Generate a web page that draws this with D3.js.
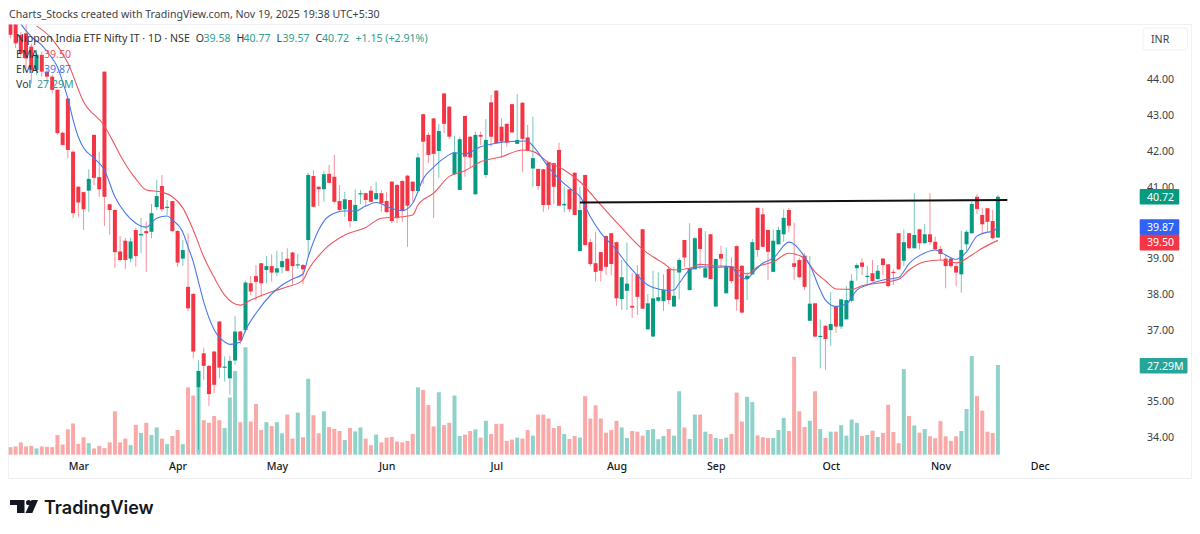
<!DOCTYPE html>
<html><head><meta charset="utf-8">
<script src="https://cdnjs.cloudflare.com/ajax/libs/d3/7.8.5/d3.min.js"></script>
<style>html,body{margin:0;background:#fff}svg{display:block}text{font-family:"Noto Sans",sans-serif}</style>
</head><body><svg id="c" width="1200" height="534"></svg>
<script>
const open=[45.70,45.70,45.25,45.29,44.92,44.27,44.69,44.22,44.08,43.71,
42.51,43.47,41.98,41.00,40.85,40.89,42.45,41.27,44.22,40.51,
40.35,39.19,39.49,38.99,39.79,39.64,39.76,39.74,40.43,41.02,
40.41,40.60,39.76,38.99,38.20,38.00,35.39,36.34,35.99,36.39,
37.23,35.94,35.64,36.14,36.95,36.99,38.30,38.50,38.86,38.67,
38.78,38.60,38.75,38.99,39.16,38.80,38.81,39.51,41.30,41.00,
40.93,41.36,41.28,40.60,40.37,40.63,40.04,40.79,40.82,40.89,
40.65,40.82,40.60,41.14,41.05,41.16,41.31,41.14,40.88,43.03,
42.45,42.91,42.00,43.61,43.24,41.35,40.91,42.98,42.40,40.79,
42.45,41.33,43.36,43.69,42.68,42.76,43.31,42.20,43.35,42.38,
41.51,41.50,41.49,41.69,41.66,42.03,40.48,40.93,41.39,39.20,
41.33,39.45,38.86,39.17,39.62,39.70,39.45,37.86,38.09,37.67,
38.55,39.81,37.01,36.81,37.81,37.80,38.70,37.65,38.60,39.51,
38.11,38.69,39.84,38.46,39.67,37.65,39.12,38.02,38.76,39.34,
38.79,38.42,38.55,40.41,40.23,39.79,38.62,39.39,39.67,40.35,
38.86,38.95,39.07,37.25,37.74,36.80,37.11,36.99,37.65,37.09,
37.29,37.81,38.72,38.88,38.48,38.58,38.42,38.99,38.83,38.62,
39.70,38.93,39.70,39.28,39.81,39.42,39.67,39.46,39.26,38.99,
38.99,38.78,38.55,39.39,39.70,40.72,40.21,40.40,40.04,39.58];
const close=[45.25,45.01,44.73,44.59,44.27,44.69,44.22,44.08,43.71,42.50,
42.17,42.03,40.26,40.56,40.37,41.22,41.25,40.93,40.72,40.35,
39.17,38.95,38.95,39.47,39.06,39.68,39.70,40.26,40.74,40.37,
40.44,39.76,38.88,39.23,37.60,36.39,35.85,35.99,35.20,35.46,
35.94,35.97,36.13,36.95,36.70,38.32,38.07,38.34,38.30,38.78,
38.60,38.72,38.92,38.65,38.78,38.83,38.69,41.33,40.44,40.93,
41.35,41.11,40.58,40.35,40.65,40.04,40.49,40.82,40.63,40.58,
40.82,40.54,40.29,40.04,40.12,40.32,40.47,40.88,41.82,42.26,
41.89,41.92,42.56,42.76,42.40,41.96,42.33,41.84,41.82,42.45,
42.40,42.31,42.40,42.22,42.26,42.23,42.52,42.31,42.34,42.01,
41.80,41.02,40.49,40.49,41.00,40.47,40.52,40.37,40.21,40.35,
39.37,38.84,38.62,38.65,38.76,38.84,37.88,38.47,38.29,37.62,
37.92,37.59,37.74,37.88,37.91,38.11,37.83,37.95,38.95,39.02,
38.72,39.56,39.26,38.72,38.42,38.98,38.99,38.78,38.36,37.85,
37.48,38.51,39.45,39.23,39.32,39.18,39.49,39.79,40.13,39.91,
38.76,38.47,38.20,37.73,36.81,36.83,36.74,37.16,37.09,37.85,
37.83,38.37,38.81,38.76,38.51,38.36,38.65,38.81,38.22,38.60,
38.69,39.45,39.28,39.65,39.42,39.67,39.45,39.25,39.12,38.78,
38.78,38.60,39.23,39.74,40.52,40.38,39.95,40.02,39.56,40.72];
const high=[45.80,45.80,45.33,45.55,45.01,44.83,44.78,44.31,44.13,43.73,
42.54,43.47,42.01,41.02,40.86,41.49,42.47,41.98,44.22,40.52,
40.37,39.62,39.57,39.58,39.85,40.13,40.02,40.52,41.19,41.33,
40.63,40.60,39.79,39.51,39.70,38.03,36.15,36.50,36.01,36.41,
37.25,36.25,36.27,37.39,36.97,38.37,38.50,38.81,38.87,39.06,
39.11,39.21,39.18,39.28,39.18,39.12,38.84,41.39,41.47,41.02,
41.45,41.61,41.89,41.05,40.86,40.63,40.93,40.91,40.83,41.02,
41.14,40.91,40.86,41.16,41.08,41.19,41.33,41.16,41.94,43.04,
42.52,42.92,42.76,43.62,43.26,42.42,42.40,42.98,42.42,42.54,
42.54,42.89,43.57,43.69,42.91,42.76,43.32,43.59,43.37,42.73,
42.96,41.50,41.50,41.69,41.67,42.23,41.00,40.94,41.41,40.99,
41.33,39.55,39.74,39.18,39.64,39.71,39.46,38.95,39.44,38.59,
38.81,39.82,38.00,38.65,38.61,38.55,38.78,38.76,39.01,39.51,
39.98,39.60,39.85,39.76,39.68,38.99,39.35,39.30,39.03,39.36,
38.81,38.61,39.54,40.42,40.41,39.80,39.81,39.88,40.37,40.41,
40.00,39.01,39.14,39.06,37.75,37.29,37.13,38.05,37.69,37.86,
38.22,38.55,38.86,39.00,38.79,38.95,38.81,39.01,38.84,38.69,
39.71,39.81,39.71,40.82,39.82,39.96,40.82,39.60,39.35,39.09,
39.04,38.86,39.77,39.79,40.58,40.79,40.41,40.41,40.35,40.77];
const low=[45.15,44.88,44.64,44.31,43.89,44.13,44.08,43.89,43.61,42.45,
42.15,41.80,40.12,40.16,39.79,40.30,41.05,40.72,39.90,39.65,
38.72,38.90,38.70,38.89,38.76,39.14,38.62,39.56,40.35,40.30,
40.21,39.73,38.76,38.79,37.51,36.20,33.64,35.60,34.87,35.22,
35.64,35.55,35.18,36.02,36.59,36.92,37.97,37.83,37.92,38.30,
38.35,38.50,38.58,38.65,38.27,38.71,38.27,39.04,40.43,40.46,
40.58,41.10,40.54,40.32,40.16,39.87,40.04,40.51,40.46,40.57,
40.63,40.30,40.27,39.98,39.99,40.02,39.32,40.58,40.85,41.08,
41.66,40.12,41.25,42.50,42.33,41.33,40.91,41.28,41.54,40.78,
42.17,41.25,42.12,42.20,41.80,42.12,42.50,42.20,41.42,41.99,
41.00,40.91,40.30,40.37,40.52,40.46,40.29,40.29,40.20,39.20,
39.36,38.78,38.35,38.35,38.53,38.53,37.67,37.55,37.55,37.33,
37.41,37.58,37.01,36.80,37.77,37.53,37.71,37.64,37.85,38.76,
38.10,38.69,38.70,38.45,38.41,37.64,38.76,38.02,38.30,37.53,
37.46,37.83,38.55,39.04,39.31,38.39,38.62,39.39,39.46,39.73,
38.39,38.45,38.11,37.25,36.78,35.92,35.87,36.55,36.91,37.02,
37.29,37.76,38.37,38.53,38.27,38.35,38.41,38.53,38.19,38.25,
38.67,38.78,39.26,39.27,39.25,39.41,39.37,39.23,38.95,38.16,
38.73,38.22,38.04,39.21,39.69,40.23,39.67,39.74,39.53,39.57];
const volume=[2.3,2.5,3.75,2.5,2.7,1.9,2.5,2.4,2.3,6.0,
3.1,7.7,9.5,3.3,5.3,3.5,1.9,2.7,2.0,3.75,
13.2,3.75,4.9,2.9,9.1,6.6,9.7,6.0,8.3,4.9,
3.2,5.7,7.5,3.2,20.5,18,20.5,10.5,9.7,11.8,
10.5,8.1,17.4,25.5,9.9,32.7,10.1,15.4,7.5,9.9,
8.7,9.9,6.5,12.2,4.9,12.8,5.3,23.1,12,6.5,
13.2,8.4,7.9,7.2,4.5,8.1,7.1,8.3,4.9,2.9,
6.1,3.75,5.2,5.4,4,3.75,4.2,6.3,20.5,19.7,
15.1,8.6,19,9,9.7,18,5.7,6.1,7.2,7.7,
5.2,10.3,6.3,9.4,9.4,4.2,4.6,5.2,4.9,7.5,
5.8,12.2,12.2,11,8.1,8.7,6.3,4.8,5.7,5.2,
17.8,11,15,11,6.7,7.5,10.3,8.3,5.1,7.2,
7,5.8,7.5,7.8,4.7,5.7,7.8,5.8,19.3,8.3,
4.8,12.2,12.2,7,6.3,5.1,4.8,5.2,6.3,18.9,
10.1,17.6,16,5.9,5.3,5.1,5.1,7.5,11.2,7.2,
29.8,13.2,8.4,10.3,19.3,7.8,5.1,7,7,9,
5.8,10.7,9.7,5.7,6,7.3,5.4,6.6,15.2,6.9,
3.5,26,11.8,8.9,6.7,7.8,5.6,5,10.2,5.6,
4.2,5.6,7.2,13.9,30,17.8,13.4,7,6.6,27.29];
const emaFastBar=[2,4,6,8,9,10,11,12,13,14,16,18,20,22,24,26,28,30,31,33,34,35,36,37,39,41,42,44,45,47,50,52,54,56,57,59,61,64,66,68,70,73,75,77,79,81,83,85,87,90,93,95,99,100,103,105,108,109,111,113,116,118,120,122,123,126,127,128,130,132,135,138,139,141,142,144,146,149,152,153,155,156,158,160,162,164,167,170,172,175,177,179,181,183,185,187,188,189];
const emaFastVal=[45.55,45.2,44.96,44.59,44.35,43.93,43.47,42.87,42.39,42.09,41.80,41.47,40.72,40.26,39.98,39.87,40.12,40.18,40.07,39.73,39.32,38.90,38.34,37.78,37.0,36.66,36.59,36.66,36.99,37.46,38.00,38.25,38.42,38.56,39.04,39.79,40.18,40.32,40.32,40.46,40.56,40.39,40.33,40.54,41.22,41.55,41.80,41.95,41.92,42.12,42.22,42.26,42.28,42.14,41.55,41.22,40.85,40.73,40.16,39.71,39.23,38.84,38.52,38.25,38.18,38.10,38.11,38.30,38.67,38.76,38.75,38.76,38.58,38.42,38.58,38.86,39.0,39.45,39.04,38.81,38.11,37.83,37.65,37.72,38.11,38.25,38.39,38.46,38.85,39.15,39.23,39.09,38.97,39.18,39.62,39.73,39.75,39.87];
const emaSlowBar=[5,8,11,14,18,20,21,24,26,29,31,33,35,37,39,41,44,46,50,53,56,57,60,64,68,71,75,77,78,81,84,87,90,94,98,100,103,106,109,113,117,121,123,125,127,130,132,135,138,141,143,146,149,152,153,154,156,158,161,163,166,170,172,175,178,181,184,186,189];
const emaSlowVal=[45.5,45.13,44.46,43.38,42.7,42.17,41.89,41.22,40.91,40.85,40.72,40.41,39.79,39.04,38.46,37.97,37.69,37.83,38.06,38.2,38.39,38.67,39.23,39.65,39.86,40.12,40.16,40.21,40.49,40.82,41.29,41.45,41.7,41.84,42.03,41.99,41.68,41.47,41.14,40.49,39.85,39.25,39.04,38.86,38.67,38.72,38.83,38.79,38.77,38.56,38.76,38.9,39.14,39.0,38.81,38.62,38.37,38.14,38.13,38.23,38.3,38.41,38.67,38.9,38.95,38.87,39.09,39.28,39.5];
const priceTicks=[34,35,37,38,39,41,42,43,44];
const monthLabels=["Mar","Apr","May","Jun","Jul","Aug","Sep","Oct","Nov","Dec"];
const monthBars=[13,32,51,72,93,116,135,157,178,197];
const levelBars=[109,190.8];
const levelVals=[40.56,40.63];

const UP="#089981",DOWN="#f23645",VUP="#8ed2c9",VDOWN="#f9a9a8";
const svg=d3.select("#c");
const x=d3.scaleLinear().domain([0,189]).range([10.4,997.9]);
const y=d3.scaleLinear().domain([34,44]).range([437,79.5]);
const yV=d3.scaleLinear().domain([0,27.29]).range([454.7,365]);
const bars=d3.range(open.length).map(i=>({i,o:open[i],c:close[i],h:high[i],l:low[i],v:volume[i],up:close[i]>=open[i]}));

svg.append("defs").append("clipPath").attr("id","plot").append("rect").attr("x",8.5).attr("y",24.5).attr("width",1183).attr("height",454);
svg.append("rect").attr("x",8.5).attr("y",24.5).attr("width",1183).attr("height",454).attr("fill","#fff").attr("stroke","#eff1f5");

svg.append("text").attr("x",9).attr("y",18).attr("font-size",10.6).attr("fill","#3a3e48").text("Charts_Stocks created with TradingView.com, Nov 19, 2025 19:38 UTC+5:30");

const plot=svg.append("g").attr("clip-path","url(#plot)");
plot.append("g").selectAll("rect").data(bars).join("rect")
 .attr("x",d=>x(d.i)-2).attr("width",4).attr("y",d=>yV(d.v)).attr("height",d=>yV(0)-yV(d.v))
 .attr("fill",d=>d.up?VUP:VDOWN);
plot.append("g").selectAll("line").data(bars).join("line")
 .attr("x1",d=>x(d.i)).attr("x2",d=>x(d.i)).attr("y1",d=>y(d.h)).attr("y2",d=>y(d.l))
 .attr("stroke",d=>d.up?UP:DOWN).attr("stroke-width",1).attr("stroke-opacity",.55);
plot.append("g").selectAll("rect").data(bars).join("rect")
 .attr("x",d=>x(d.i)-2).attr("width",4)
 .attr("y",d=>y(Math.max(d.o,d.c))).attr("height",d=>Math.max(1.2,Math.abs(y(d.o)-y(d.c))))
 .attr("fill",d=>d.up?UP:DOWN);

const ln=d3.line().x(d=>x(d[0])).y(d=>y(d[1])).curve(d3.curveMonotoneX);
plot.append("path").attr("d",ln(d3.zip(emaSlowBar,emaSlowVal))).attr("fill","none").attr("stroke","#ee5560").attr("stroke-width",1.1);
plot.append("path").attr("d",ln(d3.zip(emaFastBar,emaFastVal))).attr("fill","none").attr("stroke","#4a78e8").attr("stroke-width",1.1);
plot.append("line").attr("x1",x(levelBars[0])).attr("x2",x(levelBars[1])).attr("y1",y(levelVals[0])).attr("y2",y(levelVals[1])).attr("stroke","#111").attr("stroke-width",2);

// Axes
const yAxis=svg.append("g").attr("transform","translate(1147,0)")
 .call(d3.axisRight(y).tickValues(priceTicks).tickSize(0).tickPadding(0).tickFormat(d3.format(".2f")));
yAxis.select(".domain").remove();
yAxis.selectAll("text").attr("font-size",10.6).attr("fill","#3a3e48").style("font-family",'"Noto Sans",sans-serif');
const xAxis=svg.append("g").attr("transform","translate(0,462)")
 .call(d3.axisBottom(x).tickValues(monthBars).tickSize(0).tickPadding(0).tickFormat((d,i)=>monthLabels[i]));
xAxis.select(".domain").remove();
xAxis.selectAll("text").attr("font-size",10.6).attr("font-weight",500).attr("fill","#131722").style("font-family",'"Noto Sans",sans-serif');

// Price tags
const tags=[["40.72",40.72,UP,1179.3,0],["39.87",39.87,"#2f62f5",1179.3,0],["39.50",39.5,"#f23645",1179.3,2.2]];
tags.forEach(t=>{const cy=y(t[1])+t[4];
 svg.append("rect").attr("x",1139.7).attr("y",cy-7.8).attr("width",t[3]-1139.7).attr("height",15.6).attr("rx",1).attr("fill",t[2]);
 svg.append("text").attr("x",1147).attr("y",cy+3.8).attr("font-size",10.6).attr("fill","#fff").text(t[0]);
});
svg.append("rect").attr("x",1139.7).attr("y",358).attr("width",47.8).attr("height",15.5).attr("rx",1).attr("fill","#26a69a");
svg.append("text").attr("x",1147).attr("y",369.6).attr("font-size",10.6).attr("fill","#fff").text("27.29M");

// Currency box
svg.append("rect").attr("x",1143).attr("y",28).attr("width",44.5).attr("height",22).attr("rx",3).attr("fill","#fff").attr("stroke","#eef0f3");
svg.append("text").attr("x",1151).attr("y",43).attr("font-size",10.6).attr("fill","#3a3e48").text("INR");

// Legend
const lg=(tx,px,py,c)=>svg.append("text").attr("x",px).attr("y",py).attr("font-size",10.6).attr("fill",c).text(tx);
const TXT="#2f323a",G="#2fa08d";
lg("Nippon India ETF Nifty IT · 1D · NSE",16,42,TXT);
[["O",195.7,"39.58",203.5],["H",236.5,"40.77",243.5],["L",276.5,"39.57",282.5],["C",315.5,"40.72",322]].forEach(r=>{lg(r[0],r[1],42,TXT);lg(r[2],r[3],42,G);});
lg("+1.15 (+2.91%)",355.5,42,G);
lg("EMA",16,57.5,TXT);lg("39.50",44,57.5,"#ee5560");
lg("EMA",16,72.5,TXT);lg("39.87",44,72.5,"#4a78ea");
lg("Vol",16,88,TXT);lg("27.29M",37,88,G);

// Logo
const logo=svg.append("g").attr("fill","#131722");
logo.append("path").attr("d","M10 500H24.5V513H17V505H10Z");
logo.append("circle").attr("cx",28.6).attr("cy",502.5).attr("r",2.6);
logo.append("path").attr("d","M31.5 500H38L32.3 513H25.5Z");
svg.append("text").attr("x",44).attr("y",513.5).attr("font-size",18).attr("font-weight",600).attr("fill","#131722").style("font-family","Inter,sans-serif").text("TradingView");
</script></body></html>
